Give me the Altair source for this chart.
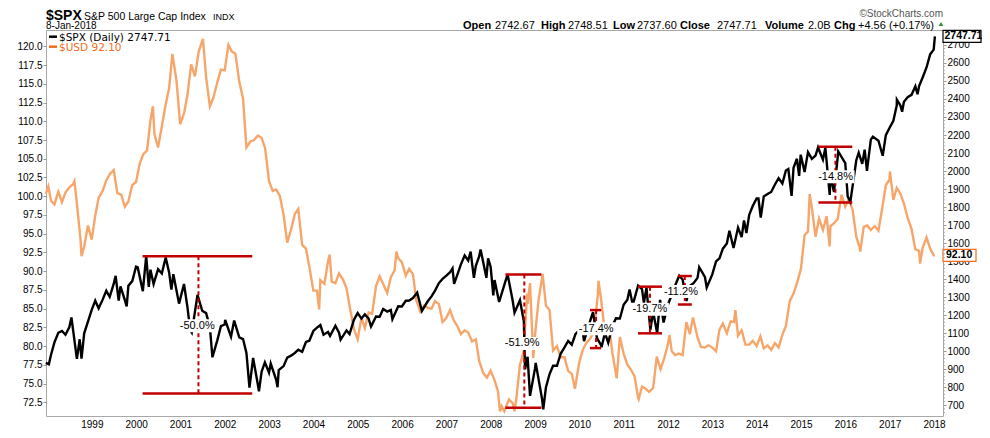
import altair as alt
import pandas as pd

# ---------------- data ----------------
spx_dates = [
    "1997-12-18", "1998-01-12", "1998-01-30", "1998-02-27", "1998-03-31", "1998-04-30", "1998-05-29", "1998-06-30",
    "1998-07-17", "1998-08-31", "1998-09-23", "1998-10-08", "1998-10-30", "1998-11-30", "1998-12-31",
    "1999-01-29", "1999-02-26", "1999-03-31", "1999-04-30", "1999-05-28", "1999-06-30", "1999-07-16", "1999-08-10",
    "1999-08-25", "1999-09-30", "1999-10-15", "1999-10-29", "1999-11-30", "1999-12-31",
    "2000-01-14", "2000-02-25", "2000-03-24", "2000-04-14", "2000-04-28", "2000-05-24", "2000-06-30", "2000-07-31",
    "2000-09-01", "2000-09-29", "2000-10-18", "2000-11-03", "2000-12-20",
    "2001-01-30", "2001-02-28", "2001-03-22", "2001-04-04", "2001-05-21", "2001-06-29", "2001-07-31", "2001-08-31",
    "2001-09-21", "2001-10-31", "2001-11-30", "2001-12-31",
    "2002-01-04", "2002-02-21", "2002-03-19", "2002-04-30", "2002-05-31", "2002-06-28", "2002-07-23", "2002-08-22",
    "2002-09-30", "2002-10-09", "2002-10-31", "2002-11-27", "2002-12-31",
    "2003-01-14", "2003-02-28", "2003-03-11", "2003-03-21", "2003-04-30", "2003-05-30", "2003-06-30", "2003-07-31",
    "2003-08-29", "2003-09-30", "2003-10-31", "2003-11-28", "2003-12-31",
    "2004-01-30", "2004-02-27", "2004-03-24", "2004-04-30", "2004-05-17", "2004-06-30", "2004-07-30", "2004-08-12",
    "2004-09-30", "2004-10-25", "2004-11-30", "2004-12-31",
    "2005-01-31", "2005-02-28", "2005-03-31", "2005-04-20", "2005-05-31", "2005-06-30", "2005-07-29", "2005-08-31",
    "2005-09-30", "2005-10-13", "2005-11-30", "2005-12-30",
    "2006-01-31", "2006-02-28", "2006-03-31", "2006-05-05", "2006-06-13", "2006-07-31", "2006-08-31", "2006-09-29",
    "2006-10-31", "2006-11-30", "2006-12-29",
    "2007-01-31", "2007-02-20", "2007-03-05", "2007-03-30", "2007-04-30", "2007-05-31", "2007-06-29", "2007-07-19",
    "2007-08-15", "2007-08-31", "2007-09-28", "2007-10-09", "2007-11-26", "2007-12-10", "2007-12-31",
    "2008-01-22", "2008-02-01", "2008-03-10", "2008-04-30", "2008-05-19", "2008-06-30", "2008-07-15", "2008-08-29",
    "2008-09-30", "2008-10-10", "2008-10-31", "2008-11-20", "2008-12-31",
    "2009-01-06", "2009-02-27", "2009-03-09", "2009-03-31", "2009-04-30", "2009-05-29", "2009-06-30", "2009-07-31",
    "2009-08-31", "2009-09-30", "2009-10-30", "2009-11-30", "2009-12-31",
    "2010-01-19", "2010-02-08", "2010-03-31", "2010-04-23", "2010-05-25", "2010-06-30", "2010-07-02", "2010-07-30",
    "2010-08-26", "2010-09-30", "2010-10-29", "2010-11-30", "2010-12-31",
    "2011-01-31", "2011-02-18", "2011-03-16", "2011-04-29", "2011-05-31", "2011-06-16", "2011-07-07", "2011-08-08",
    "2011-08-31", "2011-10-03", "2011-10-27", "2011-11-25", "2011-12-30",
    "2012-01-31", "2012-02-29", "2012-04-02", "2012-04-30", "2012-06-01", "2012-06-29", "2012-07-31", "2012-08-31",
    "2012-09-14", "2012-10-31", "2012-11-15", "2012-12-31",
    "2013-01-31", "2013-02-28", "2013-03-28", "2013-04-30", "2013-05-21", "2013-06-24", "2013-07-31", "2013-08-30",
    "2013-09-18", "2013-10-08", "2013-10-31", "2013-11-29", "2013-12-31",
    "2014-01-15", "2014-02-03", "2014-02-28", "2014-03-31", "2014-04-30", "2014-05-30", "2014-06-30", "2014-07-31",
    "2014-08-29", "2014-09-18", "2014-10-15", "2014-10-31", "2014-11-28", "2014-12-16", "2014-12-29",
    "2015-01-30", "2015-02-27", "2015-03-31", "2015-04-30", "2015-05-21", "2015-06-30", "2015-07-20", "2015-08-25",
    "2015-08-31", "2015-09-29", "2015-10-30", "2015-11-03", "2015-12-31",
    "2016-01-20", "2016-02-11", "2016-03-31", "2016-04-20", "2016-05-19", "2016-06-08", "2016-06-27", "2016-07-29",
    "2016-08-15", "2016-09-30", "2016-11-04", "2016-11-30", "2016-12-30",
    "2017-01-31", "2017-02-28", "2017-03-01", "2017-03-31", "2017-04-13", "2017-04-28", "2017-05-31", "2017-06-30",
    "2017-07-31", "2017-08-18", "2017-08-31", "2017-09-29", "2017-10-31", "2017-11-30", "2017-12-29", "2018-01-08",
]
spx_vals = [
    935, 927, 980, 1049, 1102, 1112, 1091, 1134, 1187, 957, 1066, 959, 1099, 1164, 1229,
    1280, 1238, 1286, 1335, 1302, 1373, 1418, 1281, 1360, 1283, 1248, 1363, 1389, 1469,
    1465, 1333, 1527, 1357, 1452, 1373, 1455, 1431, 1520, 1437, 1342, 1427, 1264,
    1373, 1240, 1117, 1103, 1312, 1224, 1211, 1134, 966, 1060, 1139, 1148,
    1173, 1080, 1170, 1077, 1067, 990, 797, 962, 815, 777, 886, 938, 880,
    931, 841, 800, 895, 917, 964, 975, 990, 1008, 996, 1051, 1058, 1112,
    1131, 1145, 1091, 1107, 1085, 1141, 1102, 1064, 1115, 1095, 1174, 1212,
    1181, 1204, 1181, 1137, 1192, 1191, 1234, 1220, 1229, 1177, 1249, 1248,
    1280, 1281, 1295, 1325, 1223, 1277, 1304, 1336, 1378, 1401, 1418,
    1438, 1460, 1374, 1421, 1482, 1531, 1503, 1553, 1407, 1474, 1527, 1565, 1407, 1515, 1468,
    1310, 1395, 1273, 1386, 1426, 1280, 1214, 1283, 1166, 899, 969, 752, 903,
    935, 735, 677, 798, 873, 919, 919, 987, 1021, 1057, 1036, 1096, 1115,
    1150, 1056, 1169, 1217, 1074, 1031, 1022, 1102, 1047, 1141, 1183, 1181, 1258,
    1286, 1343, 1257, 1364, 1345, 1268, 1353, 1119, 1219, 1099, 1285, 1159, 1258,
    1312, 1366, 1419, 1398, 1278, 1362, 1379, 1407, 1466, 1412, 1353, 1426,
    1498, 1515, 1569, 1598, 1669, 1573, 1686, 1633, 1726, 1656, 1757, 1806, 1848,
    1848, 1742, 1859, 1872, 1884, 1924, 1960, 1931, 2003, 2011, 1862, 2018, 2068, 1973, 2091,
    1995, 2105, 2068, 2086, 2131, 2063, 2128, 1867, 1972, 1884, 2079, 2109, 2044,
    1859, 1829, 2060, 2102, 2040, 2119, 2001, 2174, 2191, 2168, 2085, 2199, 2239,
    2279, 2364, 2396, 2363, 2329, 2384, 2412, 2423, 2470, 2426, 2472, 2519, 2575, 2648, 2674, 2747.71,
]

usd_dates = [
    "1997-12-18", "1998-01-08", "1998-01-30", "1998-02-27", "1998-03-31", "1998-04-30", "1998-05-29", "1998-06-30",
    "1998-07-31", "1998-08-11", "1998-08-31", "1998-09-30", "1998-10-08", "1998-10-30", "1998-11-30", "1998-12-31",
    "1999-01-29", "1999-02-26", "1999-03-31", "1999-04-30", "1999-05-31", "1999-06-30", "1999-07-30", "1999-08-31",
    "1999-09-30", "1999-10-29", "1999-11-30", "1999-12-31",
    "2000-01-31", "2000-02-29", "2000-03-31", "2000-04-28", "2000-05-18", "2000-05-31", "2000-06-30", "2000-07-31",
    "2000-08-31", "2000-09-29", "2000-10-26", "2000-11-30", "2000-12-29",
    "2001-01-31", "2001-02-28", "2001-03-30", "2001-04-30", "2001-05-31", "2001-07-05", "2001-07-31", "2001-08-31",
    "2001-09-28", "2001-10-31", "2001-11-30", "2001-12-31",
    "2002-01-31", "2002-02-28", "2002-03-29", "2002-04-30", "2002-05-31", "2002-06-28", "2002-07-31", "2002-08-30",
    "2002-09-30", "2002-10-31", "2002-11-29", "2002-12-31",
    "2003-01-31", "2003-02-28", "2003-03-31", "2003-04-30", "2003-05-30", "2003-06-30", "2003-07-31", "2003-08-29",
    "2003-09-30", "2003-10-31", "2003-11-28", "2003-12-31",
    "2004-01-30", "2004-02-17", "2004-02-27", "2004-03-31", "2004-04-30", "2004-05-13", "2004-05-31", "2004-06-30",
    "2004-07-30", "2004-08-31", "2004-09-30", "2004-10-29", "2004-11-30", "2004-12-31",
    "2005-01-31", "2005-02-28", "2005-03-31", "2005-04-29", "2005-05-31", "2005-06-30", "2005-07-29", "2005-08-31",
    "2005-09-30", "2005-10-31", "2005-11-15", "2005-11-30", "2005-12-30",
    "2006-01-31", "2006-02-28", "2006-03-31", "2006-04-28", "2006-05-31", "2006-06-30", "2006-07-31", "2006-08-31",
    "2006-09-29", "2006-10-31", "2006-11-30", "2006-12-29",
    "2007-01-31", "2007-02-28", "2007-03-30", "2007-04-30", "2007-05-31", "2007-06-29", "2007-07-31", "2007-08-31",
    "2007-09-28", "2007-10-31", "2007-11-30", "2007-12-31",
    "2008-01-31", "2008-02-29", "2008-03-17", "2008-03-31", "2008-04-22", "2008-05-30", "2008-06-30", "2008-07-15",
    "2008-07-31", "2008-08-29", "2008-09-30", "2008-10-27", "2008-10-31", "2008-11-20", "2008-12-17", "2008-12-31",
    "2009-01-30", "2009-03-04", "2009-03-31", "2009-04-30", "2009-05-29", "2009-06-30", "2009-07-31", "2009-08-31",
    "2009-09-30", "2009-10-30", "2009-11-25", "2009-12-31",
    "2010-01-29", "2010-02-26", "2010-03-31", "2010-04-30", "2010-05-31", "2010-06-07", "2010-06-30", "2010-07-30",
    "2010-08-31", "2010-09-30", "2010-11-04", "2010-11-30", "2010-12-31",
    "2011-01-31", "2011-02-28", "2011-03-31", "2011-04-29", "2011-05-04", "2011-05-31", "2011-06-30", "2011-07-29",
    "2011-08-31", "2011-09-30", "2011-10-31", "2011-11-30", "2011-12-30",
    "2012-01-13", "2012-01-31", "2012-02-29", "2012-03-30", "2012-04-30", "2012-05-31", "2012-06-29", "2012-07-24",
    "2012-08-31", "2012-09-28", "2012-10-31", "2012-11-30", "2012-12-31",
    "2013-01-31", "2013-02-28", "2013-03-28", "2013-04-30", "2013-05-31", "2013-06-28", "2013-07-09", "2013-07-31",
    "2013-08-30", "2013-09-30", "2013-10-31", "2013-11-29", "2013-12-31",
    "2014-01-31", "2014-02-28", "2014-03-31", "2014-04-30", "2014-05-30", "2014-06-30", "2014-07-31", "2014-08-29",
    "2014-09-30", "2014-10-31", "2014-11-28", "2014-12-31",
    "2015-01-30", "2015-02-27", "2015-03-13", "2015-03-31", "2015-04-30", "2015-05-29", "2015-06-30", "2015-07-31",
    "2015-08-24", "2015-08-31", "2015-09-30", "2015-10-30", "2015-11-30", "2015-12-31",
    "2016-01-29", "2016-02-29", "2016-03-31", "2016-04-29", "2016-05-03", "2016-05-31", "2016-06-30", "2016-07-29",
    "2016-08-31", "2016-09-30", "2016-10-31", "2016-11-30", "2016-12-30",
    "2017-01-03", "2017-01-31", "2017-02-28", "2017-03-31", "2017-04-28", "2017-05-31", "2017-06-30", "2017-07-31",
    "2017-08-31", "2017-09-08", "2017-09-29", "2017-10-31", "2017-11-30", "2017-12-29", "2018-01-08",
]
usd_vals = [
    100.3, 101.3, 99.4, 98.9, 100.6, 99.2, 100.5, 101.2, 101.6, 102.0, 99.0, 94.2, 92.0, 93.3, 96.1, 94.2,
    97.4, 99.8, 100.7, 102.1, 103.0, 103.5, 100.4, 100.2, 98.6, 99.3, 101.5, 101.9,
    104.4, 105.6, 106.1, 110.1, 112.0, 108.3, 106.5, 109.3, 112.2, 114.4, 119.0, 115.3, 109.6,
    111.1, 113.6, 117.6, 116.0, 119.3, 121.0, 115.9, 112.0, 113.1, 115.2, 116.9, 116.8,
    120.2, 119.3, 119.0, 115.3, 113.0, 106.5, 107.3, 107.5, 108.1, 107.8, 106.4, 102.0,
    100.7, 100.9, 100.0, 97.5, 93.8, 95.5, 97.6, 98.3, 93.5, 93.0, 90.6, 87.4,
    87.4, 84.9, 88.8, 88.3, 91.3, 92.2, 88.6, 88.4, 89.7, 88.9, 87.7, 85.0, 82.3, 80.9,
    83.8, 82.4, 84.5, 84.3, 88.0, 89.3, 88.3, 87.1, 89.2, 90.1, 92.6, 91.7, 91.2,
    89.4, 90.3, 89.6, 86.1, 84.6, 85.4, 85.1, 85.0, 86.0, 85.6, 83.2, 83.7,
    84.8, 83.5, 82.7, 81.6, 82.1, 81.8, 80.6, 80.9, 78.0, 76.4, 75.8, 76.7,
    75.5, 74.0, 71.3, 72.0, 71.3, 72.9, 72.4, 71.3, 73.1, 77.5, 79.4, 87.0, 85.6, 88.4, 78.4, 81.4,
    86.2, 89.6, 85.4, 84.8, 79.4, 80.0, 78.5, 78.5, 76.7, 76.3, 74.3, 77.9,
    79.5, 80.4, 81.0, 81.9, 86.6, 88.7, 86.0, 81.7, 83.0, 79.0, 75.7, 81.2, 79.0,
    77.5, 76.9, 76.0, 73.1, 72.9, 74.6, 74.3, 73.9, 74.4, 78.6, 76.9, 78.4, 80.2,
    81.5, 79.3, 78.8, 79.0, 78.8, 83.2, 81.6, 83.8, 81.2, 79.9, 79.8, 80.1, 79.8,
    79.3, 82.2, 83.0, 81.7, 83.3, 83.2, 84.8, 81.4, 82.1, 80.2, 80.2, 80.7, 80.0,
    81.3, 79.7, 80.1, 79.5, 80.4, 79.8, 81.5, 82.7, 86.0, 87.0, 88.4, 90.3,
    94.8, 95.3, 100.3, 98.4, 94.6, 97.0, 95.5, 97.3, 93.3, 96.0, 96.4, 97.0, 100.2, 98.6,
    99.6, 98.2, 94.6, 93.1, 92.6, 95.9, 96.1, 95.5, 96.0, 95.4, 98.4, 101.5, 102.2,
    103.3, 99.5, 101.1, 100.3, 99.0, 97.0, 95.6, 92.9, 92.7, 91.0, 93.1, 94.5, 93.0, 92.1, 92.10,
]

# drawdown annotations (values on the S&P scale)
ann_text = ["-50.0%", "-51.9%", "-17.4%", "-19.7%", "-11.2%", "-14.8%"]
ann_start = ["2000-02-23", "2008-05-01", "2010-03-29", "2011-04-28", "2012-03-22", "2015-05-24"]
ann_end = ["2002-08-15", "2009-02-22", "2010-06-29", "2011-11-12", "2012-07-15", "2016-02-27"]
ann_mid = ["2001-05-29", "2008-10-04", "2010-05-18", "2011-08-05", "2012-05-18", "2015-10-11"]
ann_high = [1527, 1425, 1228, 1358, 1417, 2135]
ann_low = [765, 686, 1017, 1099, 1259, 1825]
ann_label_date = ["2001-05-19", "2008-09-16", "2010-05-19", "2011-08-04", "2012-04-16", "2015-10-12"]
ann_label_val = [1141, 1043, 1124, 1233, 1331, 1968]

year_ticks = list(range(1999, 2019))
usd_ticks = [72.5 + 2.5 * i for i in range(20)]
spx_ticks = list(range(700, 2800, 100))
spx_minor_ticks = [v for v in range(660, 2780, 20) if v % 100 != 0]

assert len(spx_dates) == len(spx_vals), (len(spx_dates), len(spx_vals))
assert len(usd_dates) == len(usd_vals), (len(usd_dates), len(usd_vals))


def yearfrac(s):
    d = pd.Timestamp(s)
    days = 366 if d.is_leap_year else 365
    return d.year + (d.dayofyear - 1) / days


spx_df = pd.DataFrame({"t": [yearfrac(d) for d in spx_dates], "v": spx_vals})
usd_df = pd.DataFrame({"t": [yearfrac(d) for d in usd_dates], "v": usd_vals})
ann_df = pd.DataFrame({
    "label": ann_text,
    "t0": [yearfrac(d) for d in ann_start],
    "t1": [yearfrac(d) for d in ann_end],
    "tm": [yearfrac(d) for d in ann_mid],
    "hi": ann_high,
    "lo": ann_low,
    "tl": [yearfrac(d) for d in ann_label_date],
    "vl": ann_label_val,
})
minor_df = pd.DataFrame({"v": spx_minor_ticks})
last_spx = pd.DataFrame({"v": [spx_vals[-1]], "txt": [f"{spx_vals[-1]:.2f}"]})
last_usd = pd.DataFrame({"v": [usd_vals[-1]], "txt": [f"{usd_vals[-1]:.2f}"]})

# ---------------- scales & axes ----------------
FONT = "Liberation Sans"
RED = "#C00000"
ORANGE = "#F6A66A"
TAG_ORANGE = "#F26B1D"
W = 897
H = 386

x_scale = alt.Scale(domain=[1997.966, 2018.202], nice=False, zero=False)
usd_scale = alt.Scale(domain=[70.67, 122.18], nice=False, zero=False)
spx_scale = alt.Scale(domain=[640, 2783], nice=False, zero=False)

x_axis = alt.Axis(values=year_ticks, format="d", title=None, labelFont=FONT, labelFontSize=10,
                  labelColor="black", ticks=False, domain=False, grid=False,
                  labelPadding=3, labelFlush=False)
usd_axis = alt.Axis(orient="left", values=usd_ticks, format=".1f", title=None, labelFont=FONT,
                    labelFontSize=10, labelColor="black", tickSize=3, tickColor="#999999",
                    domain=False, grid=False, labelPadding=1, labelFlush=False)
spx_axis = alt.Axis(orient="right", values=spx_ticks, format="d", title=None, labelFont=FONT,
                    labelFontSize=10, labelColor="black", tickSize=3, tickColor="#999999",
                    domain=False, grid=False, labelPadding=1, labelFlush=False)


def XF(f):
    return alt.X(f"{f}:Q", scale=x_scale, axis=x_axis)


def YS(f):
    return alt.Y(f"{f}:Q", scale=spx_scale, axis=spx_axis)


def YU(f):
    return alt.Y(f"{f}:Q", scale=usd_scale, axis=usd_axis)


usd_line = alt.Chart(usd_df).mark_line(color=ORANGE, strokeWidth=2.4).encode(x=XF("t"), y=YU("v"))
usd_tag = alt.Chart(last_usd).mark_rect(height=12, fill="white", stroke=TAG_ORANGE, strokeWidth=1.2).encode(
    x=alt.value(W), x2=alt.value(W + 33), y=YU("v"))
usd_tag_txt = alt.Chart(last_usd).mark_text(align="left", baseline="middle", font=FONT, fontSize=10.5,
                                            fontWeight="bold", color="black").encode(
    x=alt.value(W + 3), y=YU("v"), text="txt:N")
usd_group = alt.layer(usd_line, usd_tag, usd_tag_txt)

minor = alt.Chart(minor_df).mark_rule(color="#aaaaaa", strokeWidth=1).encode(
    x=alt.value(W), x2=alt.value(W + 2), y=YS("v"))
spx_line = alt.Chart(spx_df).mark_line(color="black", strokeWidth=2.4).encode(x=XF("t"), y=YS("v"))
top_rule = alt.Chart(ann_df).mark_rule(color=RED, strokeWidth=2.5).encode(
    x=XF("t0"), x2="t1:Q", y=YS("hi"))
bot_rule = alt.Chart(ann_df).mark_rule(color=RED, strokeWidth=2.5).encode(
    x=XF("t0"), x2="t1:Q", y=YS("lo"))
vert_rule = alt.Chart(ann_df).mark_rule(color=RED, strokeWidth=2, strokeDash=[4, 3]).encode(
    x=XF("tm"), y=YS("hi"), y2="lo:Q")
lab_box = alt.Chart(ann_df).mark_rect(width=38, height=13, fill="white").encode(
    x=XF("tl"), y=YS("vl"))
lab_txt = alt.Chart(ann_df).mark_text(font=FONT, fontSize=11, color="black", baseline="middle").encode(
    x=XF("tl"), y=YS("vl"), text="label:N")
spx_tag = alt.Chart(last_spx).mark_rect(height=12, fill="white", stroke="black", strokeWidth=1.2).encode(
    x=alt.value(W), x2=alt.value(W + 38), y=YS("v"))
spx_tag_txt = alt.Chart(last_spx).mark_text(align="left", baseline="middle", font=FONT, fontSize=10.5,
                                            fontWeight="bold", color="black").encode(
    x=alt.value(W + 1.5), y=YS("v"), text="txt:N")
spx_group = alt.layer(minor, spx_line, top_rule, bot_rule, vert_rule, lab_box, lab_txt, spx_tag, spx_tag_txt)

ONE = alt.Data(values=[{"a": 1}])


def txt(s, x, y, size=11, weight="normal", color="black", align="left", font=FONT):
    return alt.Chart(ONE).mark_text(text=s, align=align, baseline="alphabetic", fontSize=size,
                                    fontWeight=weight, color=color, font=font).encode(
        x=alt.value(x), y=alt.value(y))


def dash(x0, x1, y, color):
    return alt.Chart(ONE).mark_rule(color=color, strokeWidth=2.5).encode(
        x=alt.value(x0), x2=alt.value(x1), y=alt.value(y))


header = [
    txt("$SPX", 0, -10, size=14, weight="bold"),
    txt("S&P 500 Large Cap Index", 38, -10.5, size=10.5),
    txt("INDX", 167, -10.5, size=9),
    txt("8-Jan-2018", 0, -1.5, size=10),
    txt("©StockCharts.com", W, -13, size=10, color="#555555", align="right"),
    txt("Open", 417, -1.5, weight="bold"), txt("2742.67", 449, -1.5),
    txt("High", 495, -1.5, weight="bold"), txt("2748.51", 522, -1.5),
    txt("Low", 567, -1.5, weight="bold"), txt("2737.60", 591, -1.5),
    txt("Close", 634, -1.5, weight="bold"), txt("2747.71", 671, -1.5),
    txt("Volume", 719, -1.5, weight="bold"), txt("2.0B", 762, -1.5),
    txt("Chg", 788, -1.5, weight="bold"), txt("+4.56 (+0.17%)", 812, -1.5),
    alt.Chart(ONE).mark_point(shape="triangle-up", filled=True, size=22, color="#2E8B3A", opacity=1).encode(
        x=alt.value(895), y=alt.value(-6)),
    dash(3, 11, 6.7, "black"),
    txt(f"$SPX (Daily) {spx_vals[-1]:.2f}", 13, 10.5, size=10.5, font="DejaVu Sans"),
    dash(3, 11, 16.7, TAG_ORANGE),
    txt(f"$USD {usd_vals[-1]:.2f}", 13, 20.5, size=10.5, font="DejaVu Sans", color=TAG_ORANGE),
]

chart = alt.layer(usd_group, spx_group, *header).resolve_scale(y="independent").properties(
    width=W, height=H,
    autosize=alt.AutoSizeParams(type="none"),
    padding={"left": 38, "right": 974 - 38 - W, "top": 22, "bottom": 422 - 22 - H},
    background="white",
).configure_view(stroke="#A8A8A8", strokeWidth=1)

chart.save("out.html", embed_options={"renderer": "svg", "actions": False})
